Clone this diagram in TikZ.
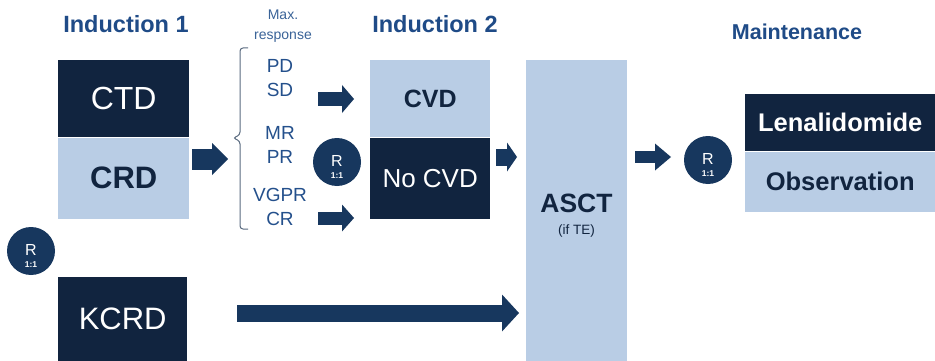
\documentclass[tikz,border=0pt]{standalone}
\usepackage{fontspec}
\setmainfont{Liberation Sans}
\usetikzlibrary{arrows.meta,positioning}
\definecolor{navy}{HTML}{11243F}
\definecolor{pale}{HTML}{B9CDE5}
\definecolor{arrowblue}{HTML}{17375E}
\definecolor{titleblue}{HTML}{1F4B87}
\definecolor{respblue}{HTML}{24508C}
\definecolor{lightresp}{HTML}{3A6398}
\definecolor{bracketgray}{HTML}{5A6B80}
\newcommand{\fsz}[1]{\fontsize{#1}{#1}\selectfont}

\begin{document}
\begin{tikzpicture}[x=1pt,y=-1pt,
  darkbox/.style={rectangle,fill=navy,text=white,inner sep=0pt,anchor=north west},
  palebox/.style={rectangle,fill=pale,text=navy,inner sep=0pt,anchor=north west},
  phase/.style={text=titleblue,inner sep=0pt},
  resp/.style={text=respblue,inner sep=0pt,align=center,font=\fontsize{19}{24}\selectfont},
  rnd/.style={circle,fill=arrowblue,minimum size=48pt,inner sep=0pt},
  rtxt/.style={text=white,inner sep=0pt},
  fatarrow/.style n args={3}{draw=arrowblue,line width=#1,-{Triangle[length=#2,width=#3,line width=0pt]}}]
\path[fill=white,use as bounding box] (0,0) rectangle (935,361);
\node[phase,font=\fsz{23.5}\bfseries] (ind1) at (126,24) {Induction 1};
\node[phase,font=\fsz{23.5}\bfseries] (ind2) at (435,24) {Induction 2};
\node[phase,font=\fsz{21.5}\bfseries] (maint) at (797,32) {Maintenance};
\node[text=lightresp,inner sep=0pt,align=center,font=\fontsize{14}{20}\selectfont] (maxresp) at (283,26) {Max.\\response};
\node[darkbox,minimum width=131pt,minimum height=77pt,font=\fsz{32}] (ctd) at (58,60) {CTD};
\node[palebox,minimum width=131pt,minimum height=81pt,font=\fsz{31}\bfseries] (crd) at (ctd.south west) {CRD};
\node[darkbox,minimum width=129pt,minimum height=84pt,font=\fsz{31}] (kcrd) at (58,277) {KCRD};
\node[palebox,minimum width=120pt,minimum height=77pt,font=\fsz{25}\bfseries] (cvd) at (370,60) {CVD};
\node[darkbox,minimum width=120pt,minimum height=81pt,font=\fsz{26}] (nocvd) at (cvd.south west) {No CVD};
\node[palebox,minimum width=101pt,minimum height=301pt] (asct) at (526,60) {};
\node[text=navy,inner sep=0pt,font=\fsz{26.5}\bfseries] (asctlbl) at (576.5,203) {ASCT};
\node[text=navy,inner sep=0pt,font=\fsz{13.5}] (ifte) at (576.5,231) {(if TE)};
\node[darkbox,minimum width=190pt,minimum height=57pt,font=\fsz{25.5}\bfseries] (lena) at (745,94) {Lenalidomide};
\node[palebox,minimum width=190pt,minimum height=60pt,font=\fsz{25.5}\bfseries] (obs) at (lena.south west) {Observation};
\node[resp] (pdsd) at (280,78.5) {PD\\SD};
\node[resp] (mrpr) at (280,144.5) {MR\\PR};
\node[resp] (vgprcr) at (280,207) {VGPR\\CR};
\draw[bracketgray,line width=1pt,rounded corners=3pt] (248,48) -- (240,48) -- (240,135) -- (233,138) -- (240,141) -- (240,229) -- (248,229);
\node[rnd] (rleft) at (31,251) {};
\node[rtxt,font=\fsz{16}] (rleftr) at (31,250) {R};
\node[rtxt,font=\fsz{8.5}\bfseries] (rleftn) at (31,265) {1:1};
\node[rnd] (rmid) at (337,162) {};
\node[rtxt,font=\fsz{16}] (rmidr) at (337,161) {R};
\node[rtxt,font=\fsz{8.5}\bfseries] (rmidn) at (337,176) {1:1};
\node[rnd] (rright) at (708,160) {};
\node[rtxt,font=\fsz{16}] (rrightr) at (708,159) {R};
\node[rtxt,font=\fsz{8.5}\bfseries] (rrightn) at (708,174) {1:1};
\coordinate (a1s) at (192,159);
\coordinate (a1e) at (228,159);
\coordinate (a2s) at (318,99);
\coordinate (a2e) at (354,99);
\coordinate (a3s) at (318,218);
\coordinate (a3e) at (354,218);
\coordinate (a4s) at (496,157);
\coordinate (a4e) at (517,157);
\coordinate (a5s) at (237,313);
\coordinate (a5e) at (519,313);
\coordinate (a6s) at (635,157);
\coordinate (a6e) at (671,157);
\draw[fatarrow={21pt}{16pt}{32pt}] (a1s) -- (a1e);
\draw[fatarrow={14pt}{12pt}{28pt}] (a2s) -- (a2e);
\draw[fatarrow={13pt}{12pt}{27pt}] (a3s) -- (a3e);
\draw[fatarrow={17pt}{10pt}{29pt}] (a4s) -- (a4e);
\draw[fatarrow={17pt}{17pt}{37pt}] (a5s) -- (a5e);
\draw[fatarrow={12pt}{16pt}{27pt}] (a6s) -- (a6e);
\end{tikzpicture}
\end{document}
